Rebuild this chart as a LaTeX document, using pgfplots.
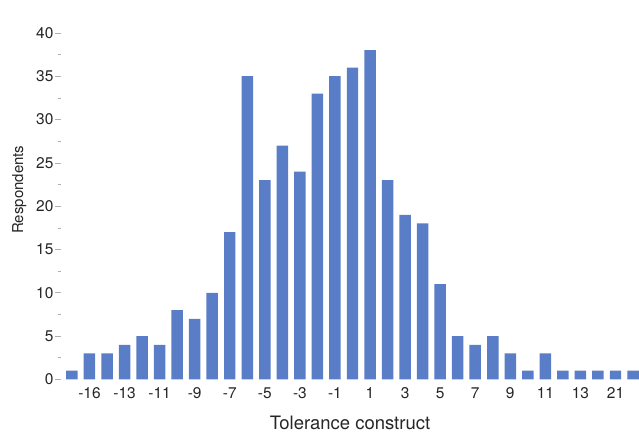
\documentclass[border=0pt]{standalone}
\usepackage{fontspec}
\setmainfont{TeX Gyre Heros}
\usepackage{pgfplots}
\pgfplotsset{compat=1.18}
\definecolor{barblue}{RGB}{89,126,199}
\definecolor{tickgray}{RGB}{175,175,175}
\begin{document}
\begin{tikzpicture}
\begin{axis}[
  name=ax,
  scale only axis,
  width=579pt, height=380pt,
  xmin=0.37, xmax=33.34,
  ymin=0, ymax=43.8,
  axis line style={draw=none},
  ybar, bar width=0.655,
  xtick={2,4,...,32},
  xticklabels={-16,-13,-11,-9,-7,-5,-3,-1,1,3,5,7,9,11,13,21},
  x tick style={draw=none},
  ytick={0,5,...,40},
  minor y tick num=1,
  y tick style={draw=tickgray, line width=0.6pt},
  tick align=outside,
  major tick length=6pt,
  minor tick length=3pt,
  /pgf/number format/assume math mode=true,
  tick label style={font=\fontsize{15.5}{18}\selectfont, text=black!85},
  yticklabel style={xshift=2pt},
  xticklabel style={yshift=1pt},
  xlabel={Tolerance construct},
  ylabel={Respondents},
  xlabel style={font=\fontsize{18.5}{21}\selectfont, text=black!85, yshift=-10pt},
  ylabel style={font=\fontsize{15}{18}\selectfont, text=black!85, yshift=3pt},
]
\addplot[fill=barblue, draw=none] coordinates {
 (1,1) (2,3) (3,3) (4,4) (5,5) (6,4) (7,8) (8,7) (9,10) (10,17)
 (11,35) (12,23) (13,27) (14,24) (15,33) (16,35) (17,36) (18,38)
 (19,23) (20,19) (21,18) (22,11) (23,5) (24,4) (25,5) (26,3)
 (27,1) (28,3) (29,1) (30,1) (31,1) (32,1) (33,1)
};
\end{axis}
\pgfresetboundingbox
\path ([shift={(-61pt,-56pt)}]ax.south west) rectangle (ax.north east);
\end{tikzpicture}
\end{document}
